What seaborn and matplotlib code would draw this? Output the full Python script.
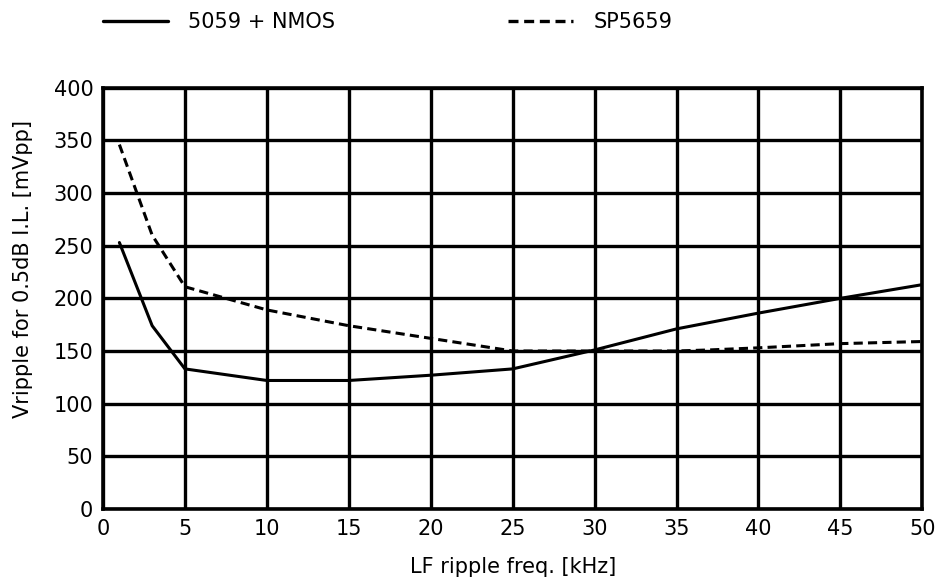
import numpy as np
import pandas as pd
import matplotlib
matplotlib.use("Agg")
import matplotlib.pyplot as plt
import seaborn as sns
from matplotlib.lines import Line2D

# values
freq_nmos = [1, 3, 5, 10, 15, 20, 25, 30, 35, 40, 45, 50]
ripple_nmos = [253, 174, 133, 122, 122, 127, 133, 151, 171, 186, 200, 213]
freq_sp = [1, 3, 5, 10, 15, 20, 25, 30, 35, 37, 40, 45, 50]
ripple_sp = [346, 260, 211, 189, 174, 162, 150, 150, 150, 151, 153, 157, 159]
x_ticks = list(range(0, 51, 5))
y_ticks = list(range(0, 401, 50))

df = pd.concat([
    pd.DataFrame({"freq": freq_nmos, "ripple": ripple_nmos, "series": "5059 + NMOS"}),
    pd.DataFrame({"freq": freq_sp, "ripple": ripple_sp, "series": "SP5659"}),
])

sns.set_style("white")
plt.rcParams["font.family"] = ["DejaVu Sans"]
plt.rcParams["text.color"] = "black"
plt.rcParams["axes.labelcolor"] = "black"
plt.rcParams["xtick.color"] = "black"
plt.rcParams["ytick.color"] = "black"

FS = 15
dash = (3, 1.7)

fig = plt.figure(figsize=(9.45, 5.81), dpi=100)
ax = fig.add_axes([0.109, 0.124, 0.867, 0.725])

sns.lineplot(
    data=df, x="freq", y="ripple", style="series",
    dashes={"5059 + NMOS": "", "SP5659": dash},
    color="black", linewidth=2.2, ax=ax, legend=False, zorder=3,
)

ax.set_xlim(0, 50)
ax.set_ylim(0, 400)
ax.set_xticks(x_ticks)
ax.set_yticks(y_ticks)
ax.grid(True, color="black", linewidth=2.4)
ax.set_axisbelow(True)
for s in ax.spines.values():
    s.set_color("black")
    s.set_linewidth(2.6)
ax.tick_params(length=0, labelsize=FS, pad=7)
ax.set_xlabel("LF ripple freq. [kHz]", fontsize=FS)
ax.set_ylabel("Vripple for 0.5dB I.L. [mVpp]", fontsize=FS)
ax.xaxis.set_label_coords(0.5, -0.113)
ax.yaxis.set_label_coords(-0.086, 0.57)

# legend above the plot
handles = [
    Line2D([], [], color="black", linewidth=2.4),
    Line2D([], [], color="black", linewidth=2.4, dashes=dash),
]
fig.legend(
    handles, ["5059 + NMOS", "SP5659"], loc="center left",
    bbox_to_anchor=(0.109, 0.962), ncol=2, frameon=False, fontsize=FS,
    borderaxespad=0, borderpad=0,
    handlelength=3.1, handletextpad=1.0, columnspacing=8.3,
)

fig.savefig("out.png", dpi=100)
